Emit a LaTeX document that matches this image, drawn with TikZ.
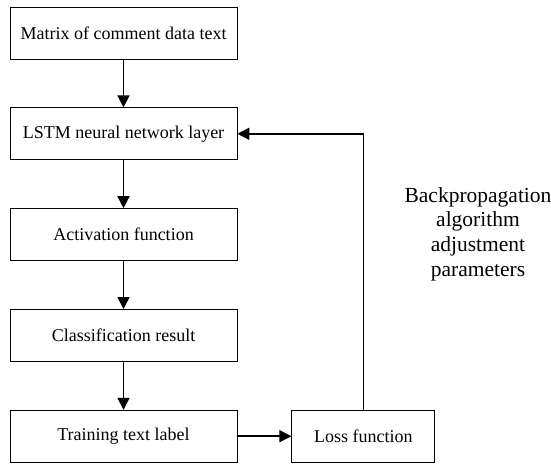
\documentclass[tikz,border=0pt]{standalone}
\usepackage{fontspec}
\setmainfont{Liberation Serif}
\usetikzlibrary{positioning,arrows.meta}

\tikzset{
  stage/.style={draw, line width=0.8pt, minimum width=227pt, minimum height=52pt, inner sep=0pt, font=\fontsize{18}{22}\selectfont},
  flow/.style={line width=1.5pt, -{Triangle[length=12pt,width=12pt]}}
}

\begin{document}
\begin{tikzpicture}[x=1pt, y=1pt, node distance=48pt and 54pt]
        \useasboundingbox (0,0) rectangle (551,-464);

        \node[stage] (matrix) at (123.5,-33) {Matrix of comment data text};
        \node[stage, below=of matrix] (lstm) {LSTM neural network layer};
        \node[stage, below=of lstm] (activ) {Activation function};
        \node[stage, below=of activ] (classif) {Classification result};
        \node[stage, below=of classif] (label) {Training text label};
        \node[stage, minimum width=143pt, right=of label] (loss) {Loss function};

        \node[align=center, inner sep=0pt, font=\fontsize{21.5}{24.7}\selectfont] (backprop) at (478,-234)
          {Backpropagation\\algorithm\\adjustment\\parameters};

        \draw[flow] (matrix) -- (lstm);
        \draw[flow] (lstm) -- (activ);
        \draw[flow] (activ) -- (classif);
        \draw[flow] (classif) -- (label);
        \draw[flow] (label) -- (loss);

        % feedback loop
        \draw[flow] (loss.north) |- (lstm.east);
\end{tikzpicture}
\end{document}
